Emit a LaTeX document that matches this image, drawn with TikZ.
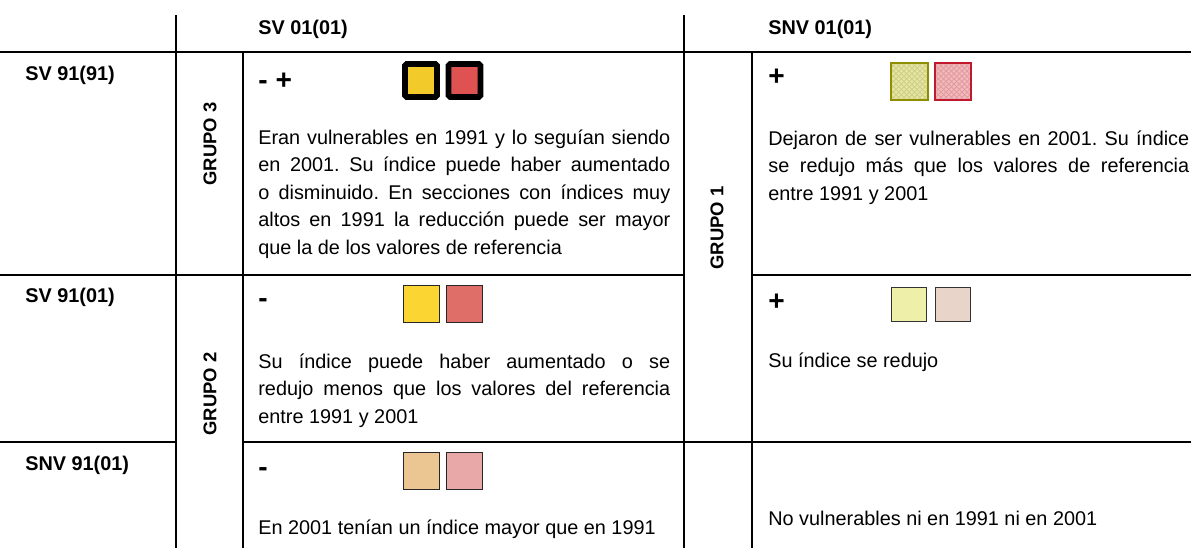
\documentclass[tikz,border=0pt]{standalone}
\usepackage{fontspec}
\setmainfont{Liberation Sans}
\usetikzlibrary{patterns}
\usetikzlibrary{positioning}

\newcommand{\bodyfont}{\fontsize{11.3}{15.7}\selectfont\frenchspacing}
\newcommand{\headfont}{\fontsize{11.3}{15.7}\selectfont\bfseries}

\definecolor{amA}{HTML}{F2CA2A}
\definecolor{roA}{HTML}{DE5252}
\definecolor{amB}{HTML}{FBD633}
\definecolor{roB}{HTML}{E06E68}
\definecolor{naC}{HTML}{EBC693}
\definecolor{roC}{HTML}{E8A8A8}
\definecolor{amD}{HTML}{E6E69C}
\definecolor{roD}{HTML}{F0BABA}
\definecolor{amE}{HTML}{EEF0AA}
\definecolor{roE}{HTML}{E8D4C8}
\definecolor{olD}{HTML}{8E8E00}
\definecolor{bdD}{HTML}{C0182C}

\begin{document}
\begin{tikzpicture}[x=0.02cm,y=-0.02cm,
  grid/.style={line width=1.2pt},
  head/.style={font=\headfont,anchor=base west,inner sep=0pt},
  grupo/.style={font=\fontsize{10.5}{12}\selectfont\bfseries,rotate=90,inner sep=0pt},
  sign/.style={font=\fontsize{16}{18}\selectfont\bfseries,anchor=west,inner sep=0pt},
  body/.style={font=\bodyfont,anchor=base west,inner sep=0pt,align=justify,text width=8.24cm},
  swthick/.style={draw=black,line width=3.4pt,rounded corners=1pt,minimum width=0.64cm,minimum height=0.66cm,inner sep=0pt},
  swthin/.style={draw=black!85,line width=0.7pt,minimum width=0.72cm,minimum height=0.74cm,inner sep=0pt},
  swhatch/.style={minimum width=0.72cm,minimum height=0.72cm,inner sep=0pt,
    postaction={pattern=north east lines,pattern color=#1},
    postaction={pattern=north west lines,pattern color=#1}},
  swedge/.style={line width=1.2pt},
  swlight/.style={draw=black!80,line width=0.6pt,minimum width=0.7cm,minimum height=0.68cm,inner sep=0pt}
]
\useasboundingbox[fill=white] (0,0) rectangle (1191,548);

\draw[grid] (176,15) -- (176,548);
\draw[grid] (684,15) -- (684,548);
\draw[grid] (0,52) -- (1191,52);
\draw[grid] (243,52) -- (243,548);
\draw[grid] (752,52) -- (752,548);
\draw[grid] (0,275) -- (684,275);
\draw[grid] (752,275) -- (1191,275);
\draw[grid] (0,442) -- (176,442);
\draw[grid] (243,442) -- (1191,442);

\node[head] (C1) at (258,34) {SV 01(01)};
\node[head] (C2) at (768,34) {SNV 01(01)};
\node[head] (R1) at (25,80) {SV 91(91)};
\node[head] (R2) at (25,302) {SV 91(01)};
\node[head] (R3) at (25,470) {SNV 91(01)};

\node[grupo] (G3) at (210,144) {GRUPO 3};
\node[grupo] (G2) at (210,394) {GRUPO 2};
\node[grupo] (G1) at (717,228) {GRUPO 1};

\node[sign] (P11) at (258,81) {- +};
\node[sign] (P21) at (258,303) {-};
\node[sign] (P31) at (258,472) {-};
\node[sign] (P12) at (768,77) {+};
\node[sign] (P22) at (768,302) {+};

\node[swthick,fill=amA] (S11a) at (421,80.5) {};
\node[swthick,fill=roA] (S11b) at (464.5,80.5) {};
\node[swthin,fill=amB] (S21a) at (421.5,304) {};
\node[swthin,fill=roB] (S21b) at (464.5,304) {};
\node[swthin,fill=naC] (S31a) at (421.5,471) {};
\node[swthin,fill=roC] (S31b) at (464.5,471) {};
\node[swhatch=olD!45,fill=amD] (S12a) at (909.5,81.5) {};
\node[swhatch=bdD!45,fill=roD] (S12b) at (953,81.5) {};
\draw[swedge,olD] (S12a.south west) rectangle (S12a.north east);
\draw[swedge,bdD] (S12b.south west) rectangle (S12b.north east);
\node[swlight,fill=amE] (S22a) at (909,304.5) {};
\node[swlight,fill=roE] (S22b) at (953,304.5) {};

\node[body] (T11) at (258,144) {Eran vulnerables en 1991 y lo seguían siendo\linebreak
en 2001. Su índice puede haber aumentado\linebreak
o disminuido. En secciones con índices muy\linebreak
altos en 1991 la reducción puede ser mayor\linebreak
que la de los valores de referencia};
\node[body,text width=8.42cm] (T12) at (768,145) {Dejaron de ser vulnerables en 2001. Su índice\linebreak
se redujo más que los valores de referencia\linebreak
entre 1991 y 2001};
\node[body] (T21) at (258,368) {Su índice puede haber aumentado o se\linebreak
redujo menos que los valores del referencia\linebreak
entre 1991 y 2001};
\node[body] (T22) at (768,367) {Su índice se redujo};
\node[body] (T31) at (258,534) {En 2001 tenían un índice mayor que en 1991};
\node[body] (T32) at (768,525) {No vulnerables ni en 1991 ni en 2001};

\end{tikzpicture}
\end{document}
